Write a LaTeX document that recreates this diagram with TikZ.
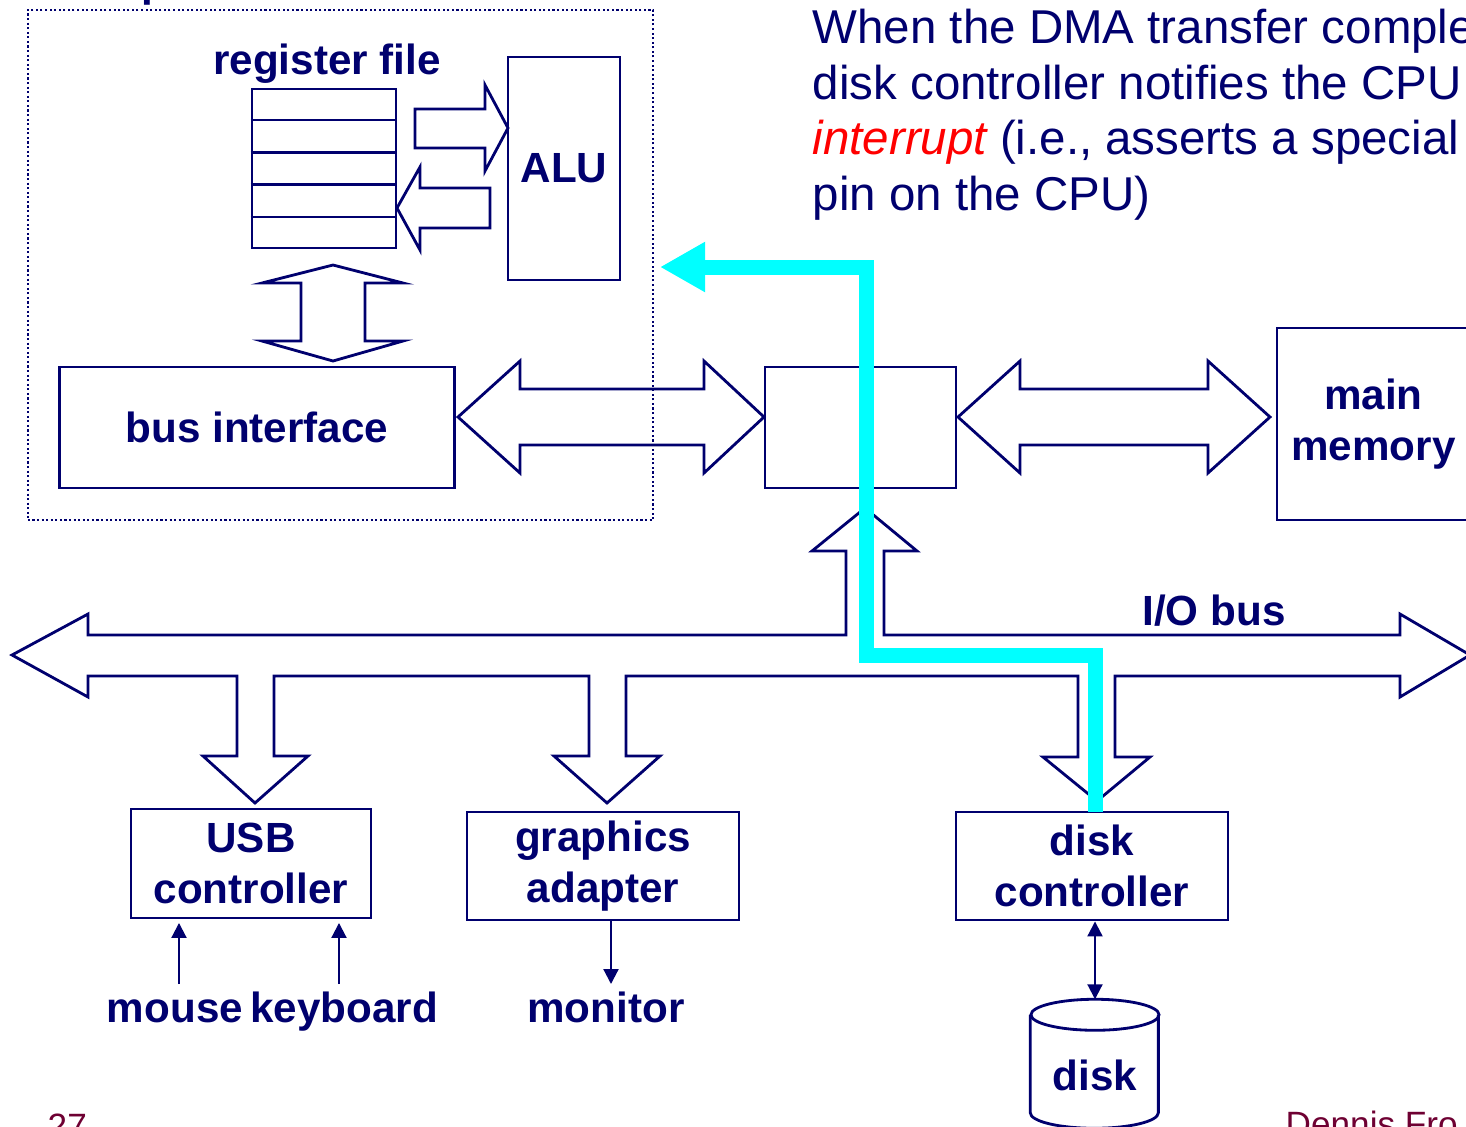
\documentclass[tikz,border=0pt]{standalone}
\usepackage{fontspec}
\setmainfont{Liberation Sans}
\usetikzlibrary{arrows.meta}
\usetikzlibrary{calc}

\definecolor{slideblue}{RGB}{0,0,110}
\definecolor{slidemaroon}{RGB}{110,0,50}
\definecolor{dmacyan}{RGB}{0,255,255}

\begin{document}
\begin{tikzpicture}[x=0.01cm,y=-0.01cm,
    every node/.style={text=slideblue,font=\fontsize{12}{14.5}\selectfont\bfseries,align=center},
    box/.style={draw=slideblue,line width=0.8pt,inner sep=0pt},
    chip/.style={draw=slideblue,line width=0.6pt,dash pattern=on 0.6pt off 0.7pt,inner sep=0pt},
    fat/.style={draw=slideblue,line width=0.8pt,line join=miter},
    wire/.style={draw=slideblue,line width=0.6pt,-{Triangle[length=0.15cm,width=0.15cm]}},
    dma/.style={draw=dmacyan,line width=0.15cm,line join=miter,-{Triangle[length=0.45cm,width=0.47cm]}}]
    \useasboundingbox (0,0) rectangle (1466,1126);

    % cpu chip
    \node[chip,minimum width=6.25cm,minimum height=5.10cm] (cpu) at (340.5,265) {};
    \node[anchor=base east,inner sep=0pt] (chiplbl) at (168,-4) {CPU chip};
    \node[box,minimum width=1.44cm,minimum height=1.59cm] (regs) at (324,168.5) {};
    \foreach \k in {1,2,3,4}
        \draw[slideblue,line width=0.8pt] ($(regs.north west)!\k/5!(regs.south west)$) -- ($(regs.north east)!\k/5!(regs.south east)$);
    \node[anchor=base] (reglbl) at (327,74) {register file};
    \node[box,minimum width=1.12cm,minimum height=2.23cm] (alu) at (564,168.5) {ALU};
    \node[box,minimum width=3.94cm,minimum height=1.21cm] (busif) at (257,427.5) {bus interface};

    % bridge and memory
    \node[box,minimum width=1.91cm,minimum height=1.21cm] (bridge) at (860.5,427.5) {};
    \node[box,minimum width=1.93cm,minimum height=1.92cm] (mem) at (1373.5,424) {main\\memory};

    % devices
    \node[box,minimum width=2.40cm,minimum height=1.09cm] (usb) at (251,863.5) {USB\\controller};
    \node[box,minimum width=2.72cm,minimum height=1.08cm] (gfx) at (603,866) {graphics\\adapter};
    \node[box,minimum width=2.72cm,minimum height=1.08cm] (dctl) at (1092,866) {disk\\controller};
    \node[minimum width=1.28cm,minimum height=1.5cm,inner sep=0pt] (disk) at (1095,1075) {disk};
    \node[anchor=base] (mouse) at (175,1022) {mouse};
    \node[anchor=base] (kbd) at (344,1022) {keyboard};
    \node[anchor=base] (monitor) at (606,1022) {monitor};
    \node[anchor=base] (iobus) at (1214,625) {I/O bus};

    % fat arrows
    \draw[fat] (415,109) -- (485,109) -- (485,85) -- (508,128) -- (485,171) -- (485,148) -- (415,148) -- cycle;
    \draw[fat] (490,188) -- (420,188) -- (420,167) -- (397,208) -- (420,250) -- (420,228) -- (490,228) -- cycle;
    \draw[fat] (333,265) -- (403,283) -- (365,283) -- (365,341) -- (403,341) -- (333,361)
        -- (262,341) -- (301,341) -- (301,283) -- (262,283) -- cycle;
    \draw[fat] (458,417) -- (520,361) -- (520,389) -- (704,389) -- (704,361) -- (764,417)
        -- (704,473) -- (704,445) -- (520,445) -- (520,473) -- cycle;
    \draw[fat] (958,417) -- (1020,361) -- (1020,389) -- (1208,389) -- (1208,361) -- (1270,417)
        -- (1208,473) -- (1208,445) -- (1020,445) -- (1020,473) -- cycle;

    % I/O bus
    \draw[fat] (12,655) -- (88,614) -- (88,635) -- (846,635) -- (846,551) -- (812,551) -- (865,508)
        -- (917,551) -- (884,551) -- (884,635) -- (1400,635) -- (1400,614) -- (1470,655)
        -- (1400,697) -- (1400,676) -- (1115,676) -- (1115,757) -- (1150,757) -- (1097,801)
        -- (1043,757) -- (1078,757) -- (1078,676) -- (626,676) -- (626,756) -- (660,756)
        -- (607,803) -- (554,756) -- (589,756) -- (589,676) -- (274,676) -- (274,756)
        -- (308,756) -- (255,803) -- (203,756) -- (237,756) -- (237,676) -- (88,676)
        -- (88,697) -- cycle;

    % disk
    \draw[fat] (disk.north) ++(0,15.5) ellipse [x radius=0.64cm,y radius=0.155cm];
    \draw[fat] (disk.north west) ++(0,15.5) -- ++(0,98)
        arc [start angle=180,end angle=360,x radius=0.64cm,y radius=0.155cm] -- ++(0,-98);

    % thin arrows
    \coordinate (m0) at (179,984);
    \coordinate (k0) at (339,984);
    \coordinate (g0) at (611,984);
    \draw[wire,shorten >=1pt] (m0) -- (m0 |- usb.south);
    \draw[wire,shorten >=1pt] (k0) -- (k0 |- usb.south);
    \draw[wire] (g0 |- gfx.south) -- (g0);
    \draw[wire,{Triangle[length=0.15cm,width=0.15cm]}-{Triangle[length=0.15cm,width=0.15cm]}] (disk.north |- dctl.south) -- (disk.north);

    % interrupt path
    \draw[dma] (1095,812) |- (866,655) |- (660,267);

    % note
    \node[anchor=north west,inner sep=0pt,align=left,font=\fontsize{13.5}{15.9}\selectfont] (note) at (812,8)
        {When the DMA transfer comple\\disk controller notifies the CPU\\\textcolor{red}{\itshape interrupt} (i.e., asserts a special\\pin on the CPU)};

    % footer
    \node[anchor=north west,inner sep=0pt,font=\fontsize{10}{12}\selectfont,text=slidemaroon] (pgno) at (47,1113) {27};
    \node[anchor=north west,inner sep=0pt,font=\fontsize{10}{12}\selectfont,text=slidemaroon] (author) at (1285,1110) {Dennis Fro};
\end{tikzpicture}
\end{document}
